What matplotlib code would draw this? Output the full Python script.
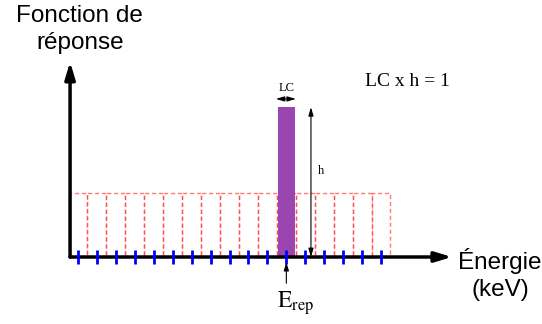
import numpy as np
import matplotlib.pyplot as plt

# schematic values (energy in bin units, response in bin-height units)
bin_energies = np.arange(17)
bin_response = np.ones(17)
peak_energy = 11
peak_height = 2.34
peak_width = 0.9

SERIF = 'Liberation Serif'
SANS = 'Liberation Sans'
plt.rcParams['mathtext.fontset'] = 'stix'

fig = plt.figure(figsize=(5.42, 3.24), dpi=100)
ax = fig.add_axes([0, 0, 1, 1])
ax.set_xlim(-4.12, 24.5)
ax.set_ylim(-1.047, 4.016)
ax.axis('off')

# histogram bins (red dashed)
ax.bar(bin_energies, bin_response, width=1, fill=False, edgecolor='#ff4040',
       linestyle=(0, (3, 2)), linewidth=1, alpha=0.7, zorder=2)

# delta peak
ax.bar(peak_energy, peak_height, width=peak_width, color='#9b45b0', zorder=3)

# axes arrows
arrow = dict(arrowstyle='-|>,head_length=1.0,head_width=0.3', lw=2.5,
             color='black', shrinkA=0, shrinkB=0)
x0 = -0.42
ax.annotate('', xy=(19.75, 0), xytext=(x0, 0), arrowprops=arrow, zorder=4)
ax.annotate('', xy=(x0, 3.05), xytext=(x0, 0), arrowprops=arrow, zorder=4)

# blue ticks
ax.plot(bin_energies, np.zeros_like(bin_energies), '|', color='#0000ff',
        ms=10, mew=2, zorder=5)

# h arrow
thin = dict(arrowstyle='<|-|>,head_length=0.5,head_width=0.15', lw=0.8,
            color='black', shrinkA=0, shrinkB=0)
ax.annotate('', xy=(12.3, peak_height), xytext=(12.3, 0), arrowprops=thin, zorder=4)
ax.text(12.85, 1.35, 'h', fontfamily=SERIF, fontsize=9, ha='center', va='center')

# LC arrow
ax.annotate('', xy=(peak_energy + 0.5, 2.47), xytext=(peak_energy - 0.55, 2.47),
            arrowprops=thin, zorder=4)
ax.text(peak_energy, 2.64, 'LC', fontfamily=SERIF, fontsize=9, ha='center', va='center')

ax.text(17.42, 2.75, 'LC x h = 1', fontfamily=SERIF, fontsize=14,
        ha='center', va='center')

# E_rep
small = dict(arrowstyle='-|>,head_length=0.5,head_width=0.15', lw=0.8,
             color='black', shrinkA=0, shrinkB=0)
ax.annotate('', xy=(peak_energy, -0.08), xytext=(peak_energy, -0.41),
            arrowprops=small, zorder=4)
ax.text(peak_energy + 0.5, -0.72, r'$\mathrm{E}_{\mathrm{rep}}$', fontsize=17,
        ha='center', va='center')

# axis labels
ax.text(0.1, 3.55, 'Fonction de\nréponse', fontfamily=SANS, fontsize=17.5,
        ha='center', va='center', linespacing=1.3)
ax.text(22.28, -0.27, 'Énergie\n(keV)', fontfamily=SANS, fontsize=17.5,
        ha='center', va='center', linespacing=1.3)

fig.savefig('out.png', dpi=100)
